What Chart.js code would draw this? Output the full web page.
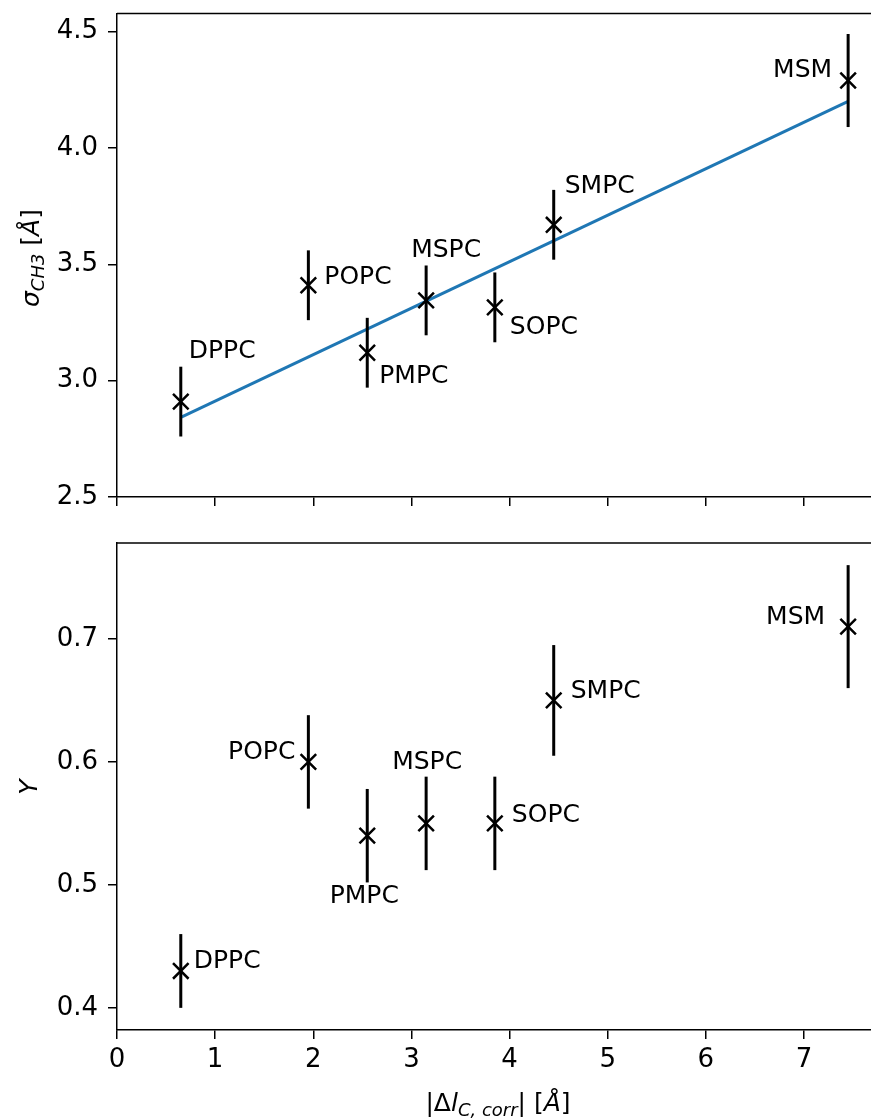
<!DOCTYPE html>
<html>
<head>
<meta charset="utf-8">
<title>sigma CH3 and Y vs delta l</title>
<script src="https://cdn.jsdelivr.net/npm/chart.js@4.4.0/dist/chart.umd.min.js"></script>
<style>
  html, body { margin: 0; padding: 0; background: #fff; overflow: hidden; width: 871px; height: 1119px; }
  canvas { position: absolute; left: 0; display: block; }
  #sigmaChart { top: 0; }
  #yChart { top: 520px; }
</style>
</head>
<body>
<!-- the axes run past the right edge of the picture, as in the original -->
<canvas id="sigmaChart" width="895" height="520"></canvas>
<canvas id="yChart" width="895" height="599"></canvas>
<script>
// ---- data ----
const lipids = ["DPPC", "POPC", "PMPC", "MSPC", "SOPC", "SMPC", "MSM"];
const deltaL = [0.65, 1.95, 2.55, 3.15, 3.85, 4.45, 7.45];

const sigmaCH3 = [2.91, 3.41, 3.12, 3.345, 3.315, 3.67, 4.29];
const sigmaErr = [0.15, 0.15, 0.15, 0.15, 0.15, 0.15, 0.20];

const yParam = [0.43, 0.60, 0.54, 0.55, 0.55, 0.65, 0.71];
const yErr = [0.03, 0.038, 0.038, 0.038, 0.038, 0.045, 0.05];

// linear fit drawn in the top panel (end points)
const fitX = [0.65, 7.45];
const fitY = [2.842, 4.20];

const xTicksMax = 7.79;
const sigmaTicks = [2.5, 4.578];
const yTicks = [0.382, 0.778];

// ---- label placement (pixels from the marker) ----
const topLabelPos = [
	["left", 8, -50], ["left", 16, -8], ["left", 12, 24], ["center", 20, -50],
	["left", 15, 20], ["left", 11, -38], ["right", -16, -10],
];
const bottomLabelPos = [
	["left", 13, -9], ["right", -13, -9], ["center", -3, 61], ["center", 1, -61],
	["left", 17, -8], ["left", 17, -9], ["right", -23, -9],
];

const FONT = "'DejaVu Sans', sans-serif";
const FS = 25;      // labels and titles
const TICK_FS = 26; // tick labels

// draws a title made of several runs (italic, subscripts ...)
function richText(ctx, parts, x, y, angle) {
	ctx.save();
	ctx.translate(x, y);
	ctx.rotate(angle);
	ctx.textBaseline = "alphabetic";
	ctx.textAlign = "left";
	ctx.fillStyle = "#000";
	let total = 0;
	parts.forEach((p) => { ctx.font = p.font; total += ctx.measureText(p.text).width; });
	let cx = -total / 2;
	parts.forEach((p) => {
		ctx.font = p.font;
		ctx.fillText(p.text, cx, p.dy || 0);
		cx += ctx.measureText(p.text).width;
	});
	ctx.restore();
}

const up = FS + "px " + FONT;
const it = "italic " + FS + "px " + FONT;
const sub = "italic 18px " + FONT;

function makePanel(canvasId, cfg) {
	const markers = deltaL.map((x, i) => ({ x: x, y: cfg.values[i] }));

	const datasets = [{
		label: "data",
		data: markers,
		pointStyle: "crossRot",
		pointRadius: 11,
		pointBorderWidth: 2.5,
		borderColor: "#000",
		backgroundColor: "#000",
		showLine: false,
		order: 1,
	}];
	if (cfg.fit) {
		datasets.push({
			label: "fit",
			data: fitX.map((x, i) => ({ x: x, y: fitY[i] })),
			showLine: true,
			borderColor: "#1f77b4",
			borderWidth: 3,
			pointRadius: 0,
			order: 2,
		});
	}

	// error bars, point labels, top spine, axis titles
	const extras = {
		id: "extras",
		afterDatasetsDraw(chart) {
			const ctx = chart.ctx;
			const xs = chart.scales.x, ys = chart.scales.y;
			ctx.save();
			ctx.strokeStyle = "#000";
			ctx.lineWidth = 3;
			deltaL.forEach((x, i) => {
				const px = xs.getPixelForValue(x);
				ctx.beginPath();
				ctx.moveTo(px, ys.getPixelForValue(cfg.values[i] - cfg.errors[i]));
				ctx.lineTo(px, ys.getPixelForValue(cfg.values[i] + cfg.errors[i]));
				ctx.stroke();
			});
			ctx.restore();
		},
		afterDraw(chart) {
			const ctx = chart.ctx;
			const xs = chart.scales.x, ys = chart.scales.y;
			const area = chart.chartArea;
			ctx.save();
			ctx.strokeStyle = "#000";
			ctx.lineWidth = 1.5;
			ctx.beginPath();
			ctx.moveTo(area.left, area.top);
			ctx.lineTo(area.right, area.top);
			ctx.stroke();

			ctx.fillStyle = "#000";
			ctx.font = up;
			ctx.textBaseline = "middle";
			lipids.forEach((name, i) => {
				const pos = cfg.labelPos[i];
				ctx.textAlign = pos[0];
				ctx.fillText(name,
					xs.getPixelForValue(deltaL[i]) + pos[1],
					ys.getPixelForValue(cfg.values[i]) + pos[2]);
			});
			ctx.restore();
			cfg.titles(ctx, area);
		},
	};

	return new Chart(document.getElementById(canvasId), {
		type: "scatter",
		data: { datasets },
		plugins: [extras],
		options: {
			responsive: false,
			devicePixelRatio: 1,
			animation: false,
			events: [],
			layout: { padding: { top: cfg.padTop, left: 0, right: 0, bottom: 0 } },
			plugins: { legend: { display: false }, tooltip: { enabled: false } },
			scales: {
				x: {
					type: "linear",
					min: 0,
					max: xTicksMax,
					afterFit: (s) => {
						s.height = cfg.xHeight;
						s.paddingLeft = 0;
						s.paddingRight = 0;
					},
					border: { display: true, color: "#000", width: 1.5 },
					grid: { drawOnChartArea: false, drawTicks: true, tickLength: 9, color: "#000", lineWidth: 1.5 },
					ticks: {
						display: cfg.xLabels,
						stepSize: 1,
						includeBounds: false,
						padding: 6,
						color: "#000",
						font: { family: FONT, size: TICK_FS },
						callback: (v) => String(v),
					},
				},
				y: {
					type: "linear",
					min: cfg.range[0],
					max: cfg.range[1],
					afterFit: (s) => {
						s.width = 117;
						s.paddingTop = 0;
						s.paddingBottom = 0;
					},
					border: { display: true, color: "#000", width: 1.5 },
					grid: { drawOnChartArea: false, drawTicks: true, tickLength: 9, color: "#000", lineWidth: 1.5 },
					ticks: {
						stepSize: cfg.step,
						includeBounds: false,
						padding: 10,
						color: "#000",
						font: { family: FONT, size: TICK_FS },
						callback: (v) => v.toFixed(1),
					},
				},
			},
		},
	});
}

makePanel("sigmaChart", {
	values: sigmaCH3,
	errors: sigmaErr,
	range: sigmaTicks,
	step: 0.5,
	fit: true,
	padTop: 12,
	xHeight: 23,
	xLabels: false,
	labelPos: topLabelPos,
	titles: (ctx) => {
		richText(ctx, [
			{ text: "σ", font: it },
			{ text: "CH3", font: sub, dy: 5 },
			{ text: " [", font: up },
			{ text: "Å", font: it },
			{ text: "]", font: up },
		], 39, 258, -Math.PI / 2);
	},
});

makePanel("yChart", {
	values: yParam,
	errors: yErr,
	range: yTicks,
	step: 0.1,
	fit: false,
	padTop: 23,
	xHeight: 89,
	xLabels: true,
	labelPos: bottomLabelPos,
	titles: (ctx) => {
		richText(ctx, [{ text: "Y", font: it }], 37, 267, -Math.PI / 2);
		richText(ctx, [
			{ text: "|Δ", font: up },
			{ text: "l", font: it },
			{ text: "C, corr", font: sub, dy: 5 },
			{ text: "| [", font: up },
			{ text: "Å", font: it },
			{ text: "]", font: up },
		], 498, 591, 0);
	},
});
</script>
</body>
</html>
